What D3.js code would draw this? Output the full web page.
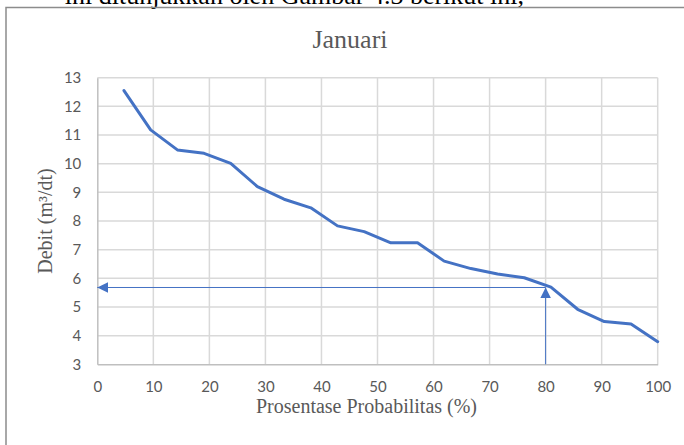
<!DOCTYPE html>
<html>
<head>
<meta charset="utf-8">
<script src="https://cdn.jsdelivr.net/npm/d3@7/dist/d3.min.js"></script>
<style>
  html, body { margin: 0; padding: 0; background: #fff; }
  svg { display: block; }
</style>
</head>
<body>
<svg id="chart" width="684" height="445"></svg>
<script>
// Flow duration curve for January
const probabilitas = [4.76, 9.52, 14.29, 19.05, 23.81, 28.57, 33.33, 38.10, 42.86, 47.62,
                      52.38, 57.14, 61.90, 66.67, 71.43, 76.19, 80.95, 85.71, 90.48, 95.24, 100];
const debit = [12.55, 11.18, 10.48, 10.36, 10.01, 9.20, 8.76, 8.46, 7.83, 7.63,
               7.24, 7.24, 6.60, 6.34, 6.15, 6.02, 5.69, 4.92, 4.49, 4.41, 3.79];

const xTicks = [0, 10, 20, 30, 40, 50, 60, 70, 80, 90, 100];
const yTicks = [3, 4, 5, 6, 7, 8, 9, 10, 11, 12, 13];

// Dependable flow read-off at 80% probability
const andalanProb = 80;
const andalanDebit = 5.68;

const judul = "Januari";
const judulX = "Prosentase Probabilitas (%)";
const judulY = "Debit (m\u00B3/dt)";
const teksAtas = "ini ditunjukkan oleh Gambar 4.3 berikut ini,";

const svg = d3.select("#chart");
const plot = { left: 97.3, right: 657.7, top: 77.7, bottom: 364.3 };

const x = d3.scaleLinear().domain([0, 100]).range([plot.left, plot.right]);
const y = d3.scaleLinear().domain([3, 13]).range([plot.bottom, plot.top]);

const gray = "#595959";
const blue = "#4472C4";

// Running document text above the figure (only its lower edge shows)
svg.append("text")
  .attr("x", 524).attr("y", 4)
  .attr("text-anchor", "end")
  .attr("font-family", "Liberation Serif, serif")
  .attr("font-size", 26)
  .attr("fill", "#000")
  .text(teksAtas);

// Chart frame
svg.append("path")
  .attr("d", `M6,${445 + 2}V7.5H${684 + 2}`)
  .attr("fill", "none")
  .attr("stroke", "#8c8c8c")
  .attr("stroke-width", 1.5);

// Title
svg.append("text")
  .attr("x", 350).attr("y", 47.5)
  .attr("text-anchor", "middle")
  .attr("font-family", "Liberation Serif, serif")
  .attr("font-size", 26)
  .attr("fill", gray)
  .text(judul);

// Gridlines
const grid = svg.append("g");
grid.selectAll("line.h")
  .data(yTicks.filter(d => d > 3))
  .join("line")
  .attr("x1", plot.left).attr("x2", plot.right)
  .attr("y1", d => y(d)).attr("y2", d => y(d))
  .attr("stroke", "#d9d9d9").attr("stroke-width", 1.5);
grid.selectAll("line.v")
  .data(xTicks.filter(d => d > 0))
  .join("line")
  .attr("y1", plot.top).attr("y2", plot.bottom)
  .attr("x1", d => x(d)).attr("x2", d => x(d))
  .attr("stroke", "#d9d9d9").attr("stroke-width", 1.5);

// Axes
const xAxis = svg.append("g")
  .attr("transform", `translate(0,${plot.bottom})`)
  .call(d3.axisBottom(x).tickValues(xTicks).tickSize(0).tickPadding(17));
const yAxis = svg.append("g")
  .attr("transform", `translate(${plot.left},0)`)
  .call(d3.axisLeft(y).tickValues(yTicks).tickSize(0).tickPadding(16));

[xAxis, yAxis].forEach(g => {
  g.select(".domain").attr("stroke", "#bfbfbf").attr("stroke-width", 1.5);
  g.selectAll("text")
    .attr("font-family", "Lato, sans-serif")
    .attr("font-size", 15)
    .attr("fill", gray);
});

// Axis titles
svg.append("text")
  .attr("x", 366.5).attr("y", 412.5)
  .attr("text-anchor", "middle")
  .attr("font-family", "Liberation Serif, serif")
  .attr("font-size", 20)
  .attr("fill", gray)
  .text(judulX);

svg.append("text")
  .attr("transform", `translate(52,${(plot.top + plot.bottom) / 2}) rotate(-90)`)
  .attr("text-anchor", "middle")
  .attr("font-family", "Liberation Serif, serif")
  .attr("font-size", 20)
  .attr("fill", gray)
  .text(judulY);

// Duration curve
const line = d3.line().x((d, i) => x(probabilitas[i])).y(d => y(d));
svg.append("path")
  .datum(debit)
  .attr("d", line)
  .attr("fill", "none")
  .attr("stroke", blue)
  .attr("stroke-width", 3)
  .attr("stroke-linejoin", "round")
  .attr("stroke-linecap", "round");

// Read-off arrows: up from 80% to the curve, then left to the debit axis
const defs = svg.append("defs");
defs.append("marker")
  .attr("id", "panah")
  .attr("viewBox", "0 0 10 10")
  .attr("refX", 10).attr("refY", 5)
  .attr("markerWidth", 11).attr("markerHeight", 11)
  .attr("markerUnits", "userSpaceOnUse")
  .attr("orient", "auto")
  .append("path")
  .attr("d", "M0,0L10,5L0,10Z")
  .attr("fill", blue);

svg.append("line")
  .attr("x1", x(andalanProb)).attr("x2", x(andalanProb))
  .attr("y1", y(3)).attr("y2", y(andalanDebit))
  .attr("stroke", blue).attr("stroke-width", 1)
  .attr("marker-end", "url(#panah)");

svg.append("line")
  .attr("x1", x(andalanProb)).attr("x2", x(0))
  .attr("y1", y(andalanDebit)).attr("y2", y(andalanDebit))
  .attr("stroke", blue).attr("stroke-width", 1)
  .attr("marker-end", "url(#panah)");
</script>
</body>
</html>
